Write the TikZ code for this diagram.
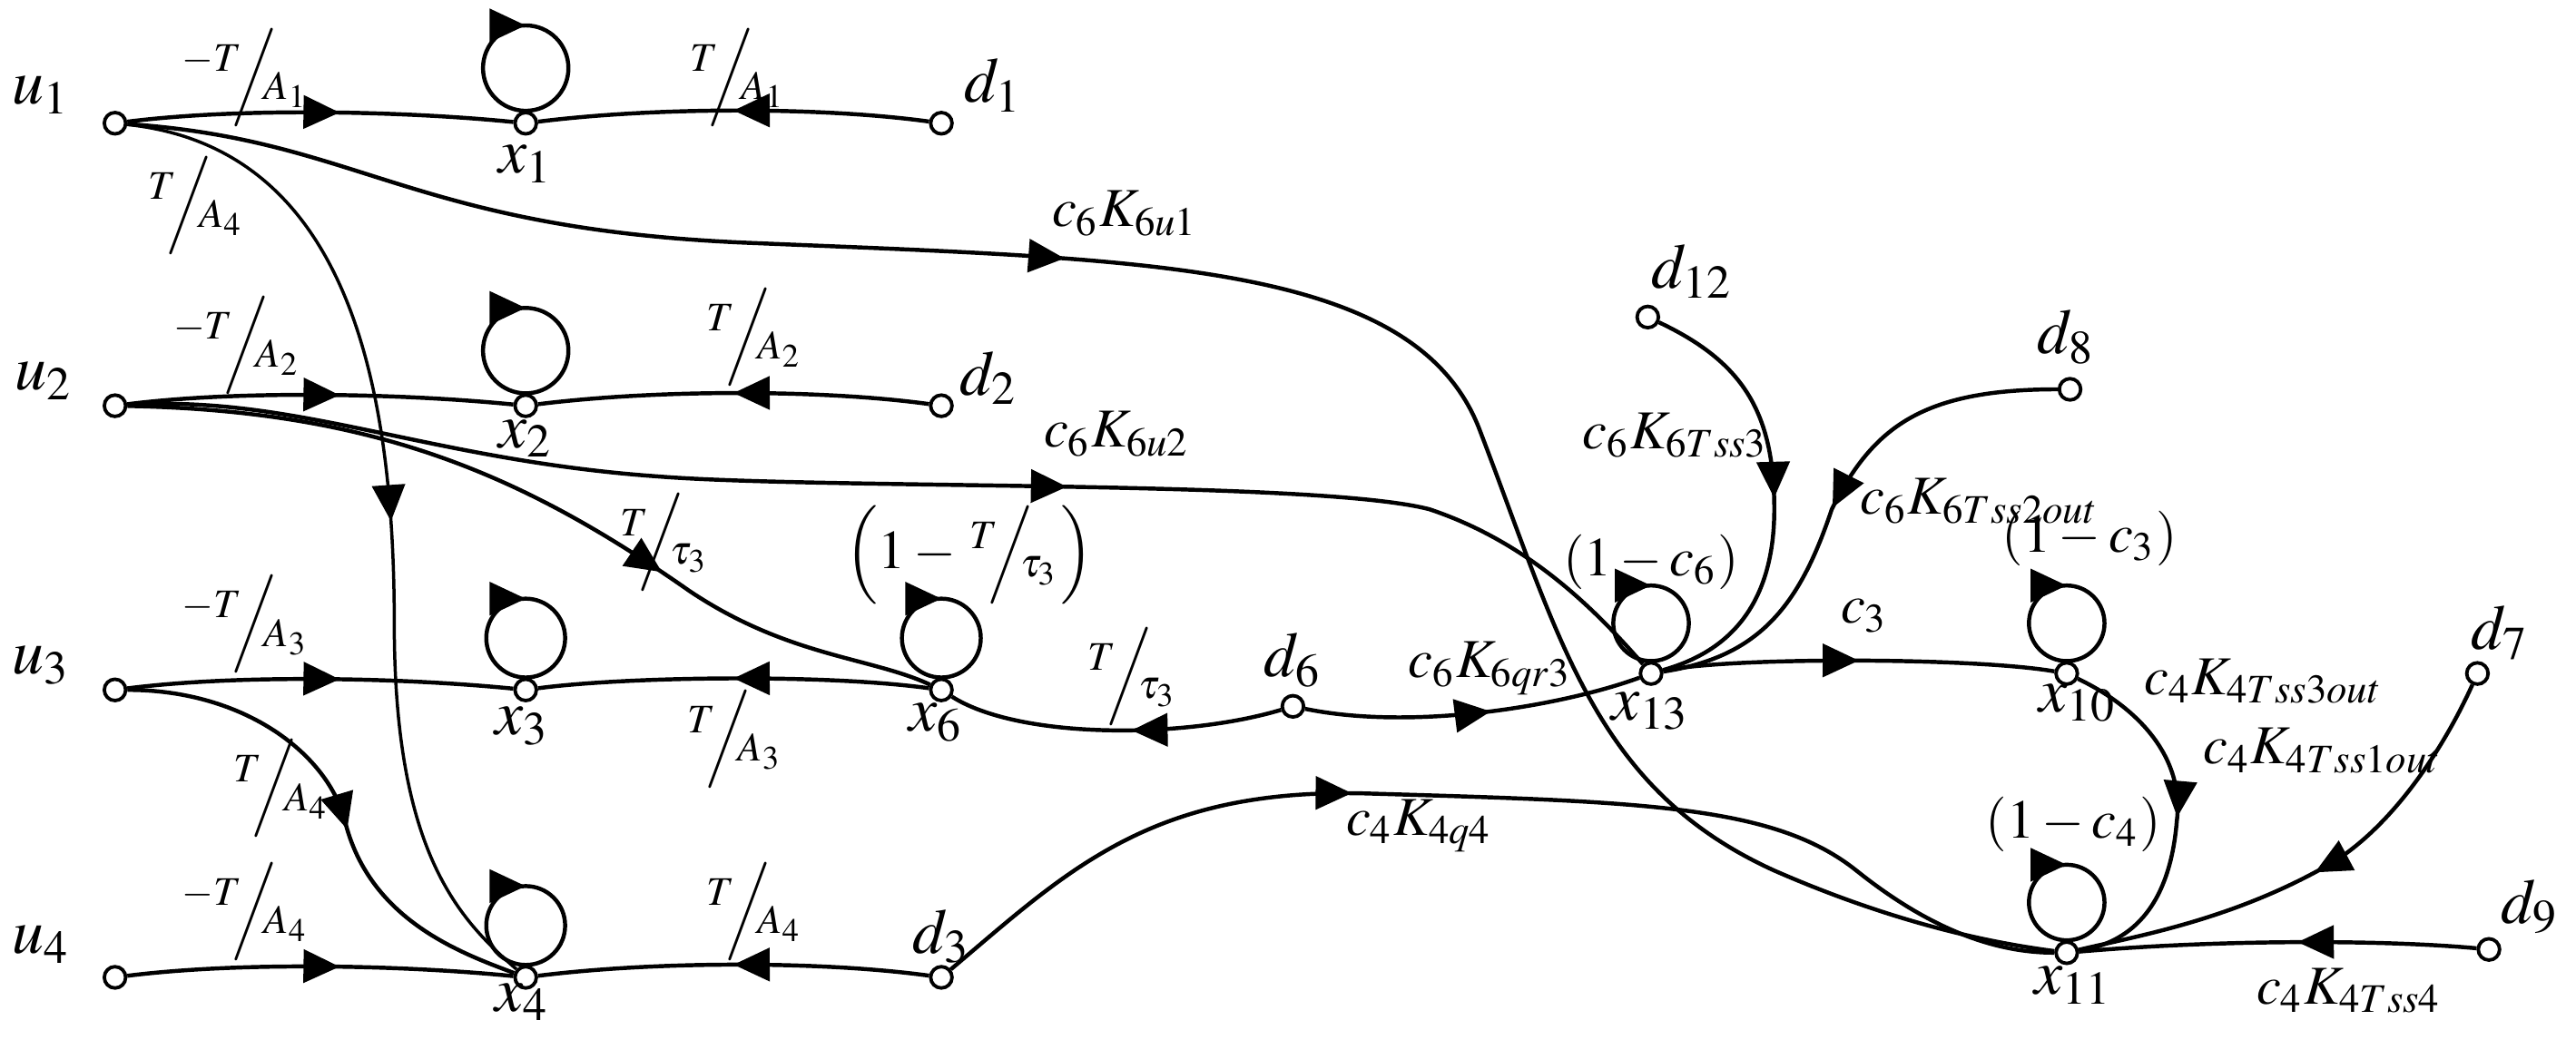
\documentclass[tikz,border=0pt]{standalone}
\usepackage{amsmath}
\usepackage{mathptmx}
\usepackage{fontspec}
\setmainfont{Liberation Serif}
\usetikzlibrary{decorations.markings,arrows.meta}
\newcommand\fr[2]{${}^{#1}\!\!\Big/\!\!{}_{#2}$}
\begin{document}
\begin{tikzpicture}[x=0.1mm,y=-0.1mm,line width=0.7pt,
  v/.style={circle,draw,fill=white,inner sep=0pt,minimum size=1.3mm,line width=0.6pt},
  lb/.style={font=\fontsize{11}{13}\selectfont,inner sep=1pt},
  sl/.style={font=\fontsize{9.5}{11}\selectfont,inner sep=1pt},
  ma/.style={postaction={decorate},decoration={markings,mark=at position #1 with {\arrow{Triangle[length=2.2mm,width=2mm]}}}}]
\useasboundingbox (0,0) rectangle (1568,633);
% vertices
\node[v] (u1) at (70,75) {}; \node[v] (x1) at (320,75) {}; \node[v] (d1) at (573,75) {};
\node[v] (u2) at (70,247) {}; \node[v] (x2) at (320,247) {}; \node[v] (d2) at (573,247) {};
\node[v] (u3) at (70,420) {}; \node[v] (x3) at (320,420) {}; \node[v] (x6) at (573,420) {};
\node[v] (d6) at (787,430) {}; \node[v] (x13) at (1005,410) {}; \node[v] (x10) at (1258,410) {};
\node[v] (d7) at (1508,410) {};
\node[v] (u4) at (70,595) {}; \node[v] (x4) at (320,595) {}; \node[v] (d3) at (573,595) {};
\node[v] (x11) at (1258,580) {}; \node[v] (d9) at (1515,578) {};
\node[v] (d12) at (1003,193) {}; \node[v] (d8) at (1260,237) {};
% self loops
\foreach \n/\r in {x1/26,x2/26,x3/24,x4/24,x6/24,x13/23,x10/23,x11/23}{
  \draw[ma=0.5] (\n.north) arc[start angle=90,end angle=450,radius=\r];}
% edges
\draw[ma=0.55] (u1) .. controls (150,65) and (250,68) .. (x1);
\draw[ma=0.5] (d1) .. controls (500,65) and (400,65) .. (x1);
\draw[ma=0.52,line width=0.55pt] (u1) .. controls (210,90) and (240,230) .. (240,380) .. controls (240,520) and (280,560) .. (x4);
\draw[ma=0.42] (u1) .. controls (220,85) and (250,140) .. (460,148) .. controls (700,158) and (860,160) .. (900,260) .. controls (950,390) and (970,480) .. (1080,530) .. controls (1160,565) and (1220,575) .. (x11);
\draw[ma=0.55] (u2) .. controls (150,237) and (250,240) .. (x2);
\draw[ma=0.5] (d2) .. controls (500,237) and (400,237) .. (x2);
\draw[ma=0.6] (u2) .. controls (180,240) and (260,280) .. (400,290) .. controls (500,298) and (800,292) .. (870,310) .. controls (930,330) and (970,370) .. (x13);
\draw[ma=0.66] (u2) .. controls (230,250) and (320,290) .. (420,360) .. controls (480,400) and (530,400) .. (x6);
\draw[ma=0.55] (u3) .. controls (150,410) and (250,413) .. (x3);
\draw[ma=0.5] (x6) .. controls (500,410) and (380,412) .. (x3);
\draw[ma=0.55] (u3) .. controls (150,420) and (200,460) .. (210,500) .. controls (225,560) and (280,580) .. (x4);
\draw[ma=0.55] (u4) .. controls (150,585) and (250,588) .. (x4);
\draw[ma=0.5] (d3) .. controls (500,585) and (400,585) .. (x4);
\draw[ma=0.45] (d6) .. controls (720,450) and (620,450) .. (x6);
\draw[ma=0.55] (d6) .. controls (860,445) and (950,430) .. (x13);
\draw[ma=0.38] (d3) .. controls (650,530) and (700,480) .. (830,483) .. controls (1000,488) and (1080,490) .. (1130,530) .. controls (1180,570) and (1220,580) .. (x11);
\draw[ma=0.5] (x13) .. controls (1050,400) and (1200,400) .. (x10);
\draw[ma=0.5] (d12) .. controls (1060,220) and (1080,250) .. (1080,310) .. controls (1080,380) and (1040,400) .. (x13);
\draw[ma=0.52] (d8) .. controls (1170,237) and (1140,260) .. (1115,310) .. controls (1095,370) and (1070,400) .. (x13);
\draw[ma=0.5] (x10) .. controls (1300,430) and (1330,460) .. (1325,500) .. controls (1320,560) and (1290,575) .. (x11);
\draw[ma=0.5] (d7) .. controls (1490,450) and (1460,500) .. (1420,525) .. controls (1360,560) and (1300,570) .. (x11);
\draw[ma=0.45] (d9) .. controls (1450,572) and (1350,572) .. (x11);
% labels
\node[lb] (lu1) at (25,58) {$u_1$}; \node[lb] (lx1) at (320,100) {$x_1$}; \node[lb] (ld1) at (605,52) {$d_1$};
\node[lb] (lu2) at (27,232) {$u_2$}; \node[lb] (lx2) at (320,267) {$x_2$}; \node[lb] (ld2) at (602,230) {$d_2$};
\node[lb] (lu3) at (25,405) {$u_3$}; \node[lb] (lx3) at (318,442) {$x_3$}; \node[lb] (lx6) at (570,440) {$x_6$};
\node[lb] (lu4) at (25,575) {$u_4$}; \node[lb] (lx4) at (318,610) {$x_4$}; \node[lb] (ld3) at (573,570) {$d_3$};
\node[lb] (ld6) at (787,402) {$d_6$}; \node[lb] (lx13) at (1005,433) {$x_{13}$}; \node[lb] (lx10) at (1265,428) {$x_{10}$};
\node[lb] (ld7) at (1522,385) {$d_7$}; \node[lb] (lx11) at (1262,600) {$x_{11}$}; \node[lb] (ld9) at (1540,552) {$d_9$};
\node[lb] (ld12) at (1030,165) {$d_{12}$}; \node[lb] (ld8) at (1258,205) {$d_8$};
\node[sl] at (150,47) {\fr{-T}{A_1}}; \node[sl] at (450,47) {\fr{T}{A_1}}; \node[sl] at (120,125) {\fr{T}{A_4}};
\node[sl] at (145,210) {\fr{-T}{A_2}}; \node[sl] at (460,205) {\fr{T}{A_2}};
\node[sl] at (150,380) {\fr{-T}{A_3}}; \node[sl] at (448,450) {\fr{T}{A_3}};
\node[sl] at (172,480) {\fr{T}{A_4}}; \node[sl] at (150,555) {\fr{-T}{A_4}}; \node[sl] at (460,555) {\fr{T}{A_4}};
\node[sl] at (405,330) {\fr{T}{\tau_3}}; \node[sl] at (690,412) {\fr{T}{\tau_3}};
\node[sl] at (590,338) {$\left(1-\,{}^{T}\!\!\Big/\!\!{}_{\tau_3}\right)$};
\node[sl] at (685,130) {$c_6K_{6u1}$}; \node[sl] at (680,264) {$c_6K_{6u2}$};
\node[sl] at (907,407) {$c_6K_{6qr3}$}; \node[sl] at (864,503) {$c_4K_{4q4}$};
\node[sl] at (1020,265) {$c_6K_{6Tss3}$}; \node[sl] at (1205,305) {$c_6K_{6Tss2out}$};
\node[sl] at (1005,342) {$(1-c_6)$}; \node[sl] at (1272,328) {$(1-c_3)$}; \node[sl] at (1262,502) {$(1-c_4)$};
\node[sl] at (1135,375) {$c_3$}; \node[sl] at (1378,415) {$c_4K_{4Tss3out}$};
\node[sl] at (1414,457) {$c_4K_{4Tss1out}$}; \node[sl] at (1430,603) {$c_4K_{4Tss4}$};
\end{tikzpicture}
\end{document}
